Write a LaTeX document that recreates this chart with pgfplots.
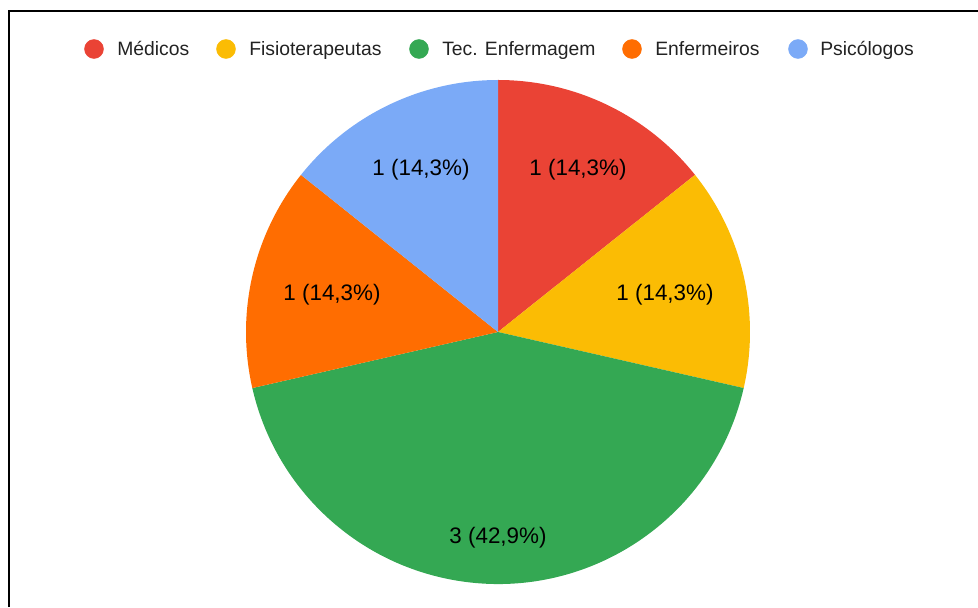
\documentclass[border=0pt]{standalone}
\usepackage{fontspec}
\setmainfont{Liberation Sans}
\usepackage{pgfplots}
\usepackage{pgfplotstable}
\pgfplotsset{compat=1.18}
\definecolor{cMed}{HTML}{EA4335}
\definecolor{cFis}{HTML}{FBBC04}
\definecolor{cTec}{HTML}{34A853}
\definecolor{cEnf}{HTML}{FF6D01}
\definecolor{cPsi}{HTML}{7BAAF7}
\definecolor{legtext}{HTML}{222222}
\pgfplotstableread{
name value
Medicos 1
Fisioterapeutas 1
TecEnfermagem 3
Enfermeiros 1
Psicologos 1
}\pietable
\begin{document}%
\begin{tikzpicture}
\pgfplotstablegetelem{0}{value}\of\pietable\let\vA\pgfplotsretval
\pgfplotstablegetelem{1}{value}\of\pietable\let\vB\pgfplotsretval
\pgfplotstablegetelem{2}{value}\of\pietable\let\vC\pgfplotsretval
\pgfplotstablegetelem{3}{value}\of\pietable\let\vD\pgfplotsretval
\pgfplotstablegetelem{4}{value}\of\pietable\let\vE\pgfplotsretval
\pgfmathsetmacro\tot{\vA+\vB+\vC+\vD+\vE}
\pgfmathsetmacro\aA{90}
\pgfmathsetmacro\aB{\aA-360*\vA/\tot}
\pgfmathsetmacro\aC{\aB-360*\vB/\tot}
\pgfmathsetmacro\aD{\aC-360*\vC/\tot}
\pgfmathsetmacro\aE{\aD-360*\vD/\tot}
\pgfmathsetmacro\aF{\aE-360*\vE/\tot}
\begin{axis}[
  width=733.5pt, height=455.25pt, scale only axis,
  xmin=0, xmax=978, ymin=0, ymax=607,
  hide axis, clip=false,
]
% pie slices (radius 252px = 189pt)
\fill[cMed] (axis cs:498,275) -- +(\aA:189pt) arc[start angle=\aA, end angle=\aB, radius=189pt] -- cycle;
\fill[cFis] (axis cs:498,275) -- +(\aB:189pt) arc[start angle=\aB, end angle=\aC, radius=189pt] -- cycle;
\fill[cTec] (axis cs:498,275) -- +(\aC:189pt) arc[start angle=\aC, end angle=\aD, radius=189pt] -- cycle;
\fill[cEnf] (axis cs:498,275) -- +(\aD:189pt) arc[start angle=\aD, end angle=\aE, radius=189pt] -- cycle;
\fill[cPsi] (axis cs:498,275) -- +(\aE:189pt) arc[start angle=\aE, end angle=\aF, radius=189pt] -- cycle;
% slice labels
\begin{scope}[every node/.style={font=\fontsize{16.8}{19}\selectfont, text=black, anchor=base, inner sep=0pt}]
\node at (axis cs:578,431) {1 (14,3\%)};
\node at (axis cs:665,306) {1 (14,3\%)};
\node at (axis cs:498,64) {3 (42,9\%)};
\node at (axis cs:332,306) {1 (14,3\%)};
\node at (axis cs:421,431) {1 (14,3\%)};
\end{scope}
% legend markers
\addplot[only marks, mark=*, mark size=7.1pt, color=cMed] coordinates {(94,558)};
\addplot[only marks, mark=*, mark size=7.1pt, color=cFis] coordinates {(226,558)};
\addplot[only marks, mark=*, mark size=7.1pt, color=cTec] coordinates {(419,558)};
\addplot[only marks, mark=*, mark size=7.1pt, color=cEnf] coordinates {(632,558)};
\addplot[only marks, mark=*, mark size=7.1pt, color=cPsi] coordinates {(798,558)};
\begin{scope}[every node/.style={font=\fontsize{14.5}{17}\selectfont, text=legtext, anchor=base west, inner sep=0pt}]
\node at (axis cs:117,551.5) {Médicos};
\node at (axis cs:249,551.5) {Fisioterapeutas};
\node at (axis cs:442,551.5) {Tec. Enfermagem};
\node at (axis cs:655,551.5) {Enfermeiros};
\node at (axis cs:820,551.5) {Psicólogos};
\end{scope}
% frame lines
\draw[black, line width=1.6pt] (axis cs:9,0) -- (axis cs:9,596) -- (axis cs:978,596);
\end{axis}
\pgfresetboundingbox
\useasboundingbox (current axis.south west) rectangle (current axis.north east);
\end{tikzpicture}%
\end{document}
